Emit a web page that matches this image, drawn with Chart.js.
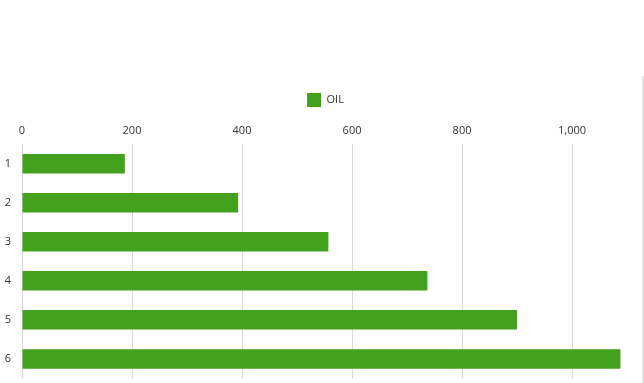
<!DOCTYPE html>
<html>
<head>
<meta charset="utf-8">
<script src="https://cdn.jsdelivr.net/npm/chart.js@4"></script>
<style>
  html, body { margin: 0; padding: 0; background: #fff; }
  #wrap { position: relative; width: 644px; height: 383px; overflow: hidden; }
  #edge { position: absolute; left: 642px; top: 76px; width: 0; height: 310px; border-left: 2px solid #e3e3e3; }
</style>
</head>
<body>
<div id="wrap">
  <canvas id="chart" width="644" height="388"></canvas>
  <div id="edge"></div>
</div>
<script>
const categories = ['1', '2', '3', '4', '5', '6'];
const oilValues = [187, 393, 557, 737, 900, 1088];
const seriesName = 'OIL';

const ctx = document.querySelector("#chart").getContext('2d');

Chart.defaults.font.family = "'Open Sans', 'Noto Sans', sans-serif";
Chart.defaults.font.size = 11;
Chart.defaults.color = '#333';

// let the category labels use the space left of the padding
const widenLabels = {
    id: 'widenLabels',
    afterLayout(chart) {
        chart.scales.y.left = 0;
    }
};

new Chart(ctx, {
    type: 'bar',
    data: {
        labels: categories,
        datasets: [
            {
                label: seriesName,
                data: oilValues,
                backgroundColor: '#43a11e',
                borderWidth: 0,
                categoryPercentage: 1,
                barPercentage: 0.5
            }
        ]
    },
    options: {
        indexAxis: 'y',
        responsive: false,
        animation: false,
        layout: { padding: { top: 89, left: 8, right: 1, bottom: 0 } },
        plugins: {
            legend: {
                labels: { boxWidth: 14, boxHeight: 14, padding: 4 }
            },
            tooltip: { enabled: false }
        },
        scales: {
            x: {
                position: 'top',
                min: 0,
                max: 1129,
                afterBuildTicks: (axis) => {
                    axis.ticks = axis.ticks.filter(t => t.value % 200 === 0);
                },
                ticks: { stepSize: 200, padding: 7, maxRotation: 0 },
                grid: { color: '#d9d9d9', drawTicks: false, lineWidth: 1 },
                border: { display: false }
            },
            y: {
                afterFit: (axis) => { axis.width = 14; },
                ticks: { padding: 3 },
                grid: { display: false },
                border: { display: false }
            }
        }
    },
    plugins: [widenLabels]
})
</script>
</body>
</html>
